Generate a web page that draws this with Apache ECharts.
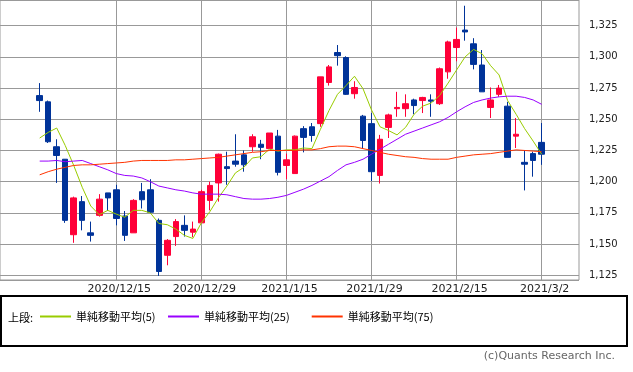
<!DOCTYPE html>
<html><head><meta charset="utf-8">
<script src="https://cdn.jsdelivr.net/npm/echarts@6/dist/echarts.min.js"></script>
<style>html,body{margin:0;padding:0;background:#fff}#c{width:633px;height:372px}</style>
</head><body><div id="c"></div><script>
const dates = ['2020/12/2','2020/12/3','2020/12/4','2020/12/7','2020/12/8','2020/12/9','2020/12/10','2020/12/11','2020/12/14','2020/12/15',
'2020/12/16','2020/12/17','2020/12/18','2020/12/21','2020/12/22','2020/12/23','2020/12/24','2020/12/25','2020/12/28','2020/12/29',
'2020/12/30','2021/1/4','2021/1/5','2021/1/6','2021/1/7','2021/1/8','2021/1/12','2021/1/13','2021/1/14','2021/1/15',
'2021/1/18','2021/1/19','2021/1/20','2021/1/21','2021/1/22','2021/1/25','2021/1/26','2021/1/27','2021/1/28','2021/1/29',
'2021/2/1','2021/2/2','2021/2/3','2021/2/4','2021/2/5','2021/2/8','2021/2/9','2021/2/10','2021/2/12','2021/2/15',
'2021/2/16','2021/2/17','2021/2/18','2021/2/19','2021/2/22','2021/2/24','2021/2/25','2021/2/26','2021/3/1','2021/3/2'];
const datesBefore = ['2020/11/26','2020/11/27','2020/11/30','2020/12/1'];
const datesAfter = ['2021/3/3','2021/3/4','2021/3/5','2021/3/8'];
const tickLabels = ['2020/12/15','2020/12/29','2021/1/15','2021/1/29','2021/2/15','2021/3/2'];

const open  = [1269,1264,1228,1218,1157.5,1184,1159,1173,1191,1193.5,
1172.5,1159,1192,1193.5,1169,1141,1156,1165,1159.5,1167,
1185,1199,1212,1216.5,1221.5,1228,1230,1226.5,1236.5,1213,
1206.5,1242.5,1244,1246.5,1279.5,1303.5,1299.5,1270.5,1252.5,1246.5,
1205,1243.5,1258.5,1258.5,1265.5,1265,1265.5,1262.5,1288,1307.5,
1321.5,1310.5,1293.5,1259.5,1270,1260.5,1236.5,1215.5,1222.5,1231.5];
const close = [1265,1232,1221,1169,1187,1169,1157,1186,1187,1170.5,
1157,1185,1185.5,1175.5,1128,1153,1168,1161,1162,1192,
1197,1222,1210.5,1214,1213.5,1236,1227.5,1239,1207.5,1217.5,
1236.5,1235.5,1237,1284,1292,1301,1270,1275.5,1233,1208,
1234,1253.5,1259.5,1262.5,1261,1267.5,1264.5,1290.5,1312,1314,
1320,1294,1272,1265.5,1275,1219.5,1238,1214,1217,1222];
const low   = [1256,1231,1199,1167,1151,1161,1152,1172,1176.5,1165,
1152.5,1159,1178.5,1174.5,1124.5,1133,1148.5,1156,1155.5,1167,
1177,1184,1197.5,1212,1208,1224,1218,1226.5,1205,1202,
1206.5,1223.5,1232,1244,1277,1293,1269.5,1266.5,1226.5,1200.5,
1198.5,1235,1252,1252,1254,1255,1252,1261.5,1282.5,1296.5,
1313,1290,1272,1251,1268,1219.5,1227,1193,1204,1213.5];
const high  = [1279,1265,1234,1218,1188,1188.5,1168,1190,1191,1197.5,
1176.5,1186,1199,1202,1170.5,1154,1170,1173,1168,1193.5,
1200,1222.5,1224,1238,1225,1238,1233.5,1239,1241.5,1222.5,
1237,1244.5,1247,1284,1293.5,1309.5,1300.5,1280.5,1253.5,1255,
1237.5,1254.5,1272,1270,1266.5,1268,1270,1291.5,1313,1323.5,
1341,1315,1305.5,1275.5,1277.5,1264,1251,1225,1224,1247];

const ma5  = [1235,1239.5,1243,1229,1213,1195.5,1180.5,1173.5,1177,1174,
1171.5,1177,1177,1175,1166.5,1165.5,1162,1157,1154.5,1167,
1176,1187,1196.5,1207,1211.5,1219,1220,1226,1224.5,1225.5,
1225.5,1227,1226.5,1242,1257,1270,1277,1284.5,1274.5,1257.5,
1244,1241,1237.5,1243.5,1254,1260.5,1263,1269,1279,1289.5,
1300,1306,1302.5,1293,1285.5,1265,1254,1242.5,1232.5,1222];
const ma25 = [1216.5,1216.5,1217,1216,1216.5,1217,1214.5,1212,1209.5,1206.5,
1205,1204.5,1203,1200,1196.5,1195,1193.5,1192.5,1191,1190,
1190,1190,1189.5,1188,1186.5,1186,1186,1186.5,1187.5,1189,
1191.5,1194,1197,1200.5,1204,1209,1213.5,1215.5,1218,1222,
1226,1230,1234,1238,1240.5,1243,1245.5,1248,1251.5,1256,
1260,1263.5,1265.5,1267,1268,1268.5,1268.5,1267.5,1265.5,1262];
const ma75 = [1205.5,1208,1210,1211.5,1213,1213.5,1213.5,1214,1214.5,1215,
1215.5,1216.5,1217,1217,1217,1217,1217.5,1217.5,1218,1218.5,
1219,1219.5,1220.5,1221.5,1222.5,1223.5,1224,1225,1225,1225,
1225,1225.5,1225.5,1226.5,1228,1228.5,1228.5,1228,1226.5,1225,
1223.5,1222,1221,1220,1219.5,1218.5,1218,1218,1218,1219.5,
1220.5,1221.5,1222,1222.5,1223.5,1224.5,1225.5,1225,1224.5,1224];

const seriesNames = ['単純移動平均(5)','単純移動平均(25)','単純移動平均(75)'];
const lineColors = ['#99cc00','#9900ff','#ff3300'];

const allDates = datesBefore.concat(dates, datesAfter);
const yMin = 1121.2, yMax = 1345.6;
const isTick = (i, v) => tickLabels.indexOf(v) >= 0;

const chart = echarts.init(document.getElementById('c'), null, {renderer: 'canvas'});
chart.setOption({
  animation: false,
  backgroundColor: '#fff',
  grid: [
    {left: 0, top: 0, width: 579, height: 280, show: true, borderColor: '#999', borderWidth: 1},
    {left: 5.67, top: 0, width: 570.03, height: 280, show: false}
  ],
  xAxis: [
    {gridIndex: 0, type: 'value', show: false, min: 0, max: 1},
    {gridIndex: 1, type: 'category', boundaryGap: false, data: allDates,
     axisLine: {show: false}, axisTick: {show: false},
     axisLabel: {interval: isTick, margin: 4, fontSize: 11, color: '#222', fontFamily: 'DejaVu Sans', padding: [0,0,0,6]},
     splitLine: {show: true, interval: isTick, lineStyle: {color: '#999', width: 1}}}
  ],
  yAxis: [
    {gridIndex: 0, type: 'value', position: 'right', min: yMin, max: yMax,
     minInterval: 25, maxInterval: 25, splitNumber: 9,
     axisLine: {show: false},
     axisTick: {show: true, length: 4, lineStyle: {color: '#999'}},
     axisLabel: {margin: 10, fontSize: 10, color: '#222', fontFamily: 'DejaVu Sans', showMinLabel: false, showMaxLabel: false},
     splitLine: {show: true, lineStyle: {color: '#999', width: 1}}},
    {gridIndex: 1, type: 'value', min: yMin, max: yMax, show: false, splitLine: {show: false}}
  ],
  legend: seriesNames.map((n, k) => ({
    data: [n], left: [40, 168, 311.7][k], top: 311, padding: 0, icon: 'rect',
    itemWidth: 31, itemHeight: 2, selectedMode: false,
    textStyle: {fontSize: 11, color: '#000', fontFamily: '"Noto Sans CJK JP"'}
  })),
  graphic: [
    {type: 'rect', shape: {x: 1, y: 296, width: 626, height: 50}, style: {fill: 'none', stroke: '#000', lineWidth: 2}},
    {type: 'text', x: 8, y: 318, style: {text: '上段:', font: '11px "Noto Sans CJK JP"', fill: '#000', verticalAlign: 'middle'}},
    {type: 'text', right: 18, top: 351, style: {text: '(c)Quants Research Inc.', font: '11px "DejaVu Sans"', fill: '#666'}}
  ],
  series: [
    {type: 'candlestick', xAxisIndex: 1, yAxisIndex: 1, barWidth: 6,
     encode: {x: 0, y: [1, 2, 3, 4]},
     data: dates.map((d, i) => [d, open[i], close[i], low[i], high[i]]),
     itemStyle: {color: '#ff0038', color0: '#003399', borderColor: '#ff0038', borderColor0: '#003399', borderWidth: 1}},
    ...[ma5, ma25, ma75].map((arr, k) => ({
      type: 'line', name: seriesNames[k], xAxisIndex: 1, yAxisIndex: 1,
      data: dates.map((d, i) => [d, arr[i]]),
      showSymbol: false, symbol: 'none', color: lineColors[k],
      lineStyle: {color: lineColors[k], width: 1}
    }))
  ]
});
</script></body></html>
